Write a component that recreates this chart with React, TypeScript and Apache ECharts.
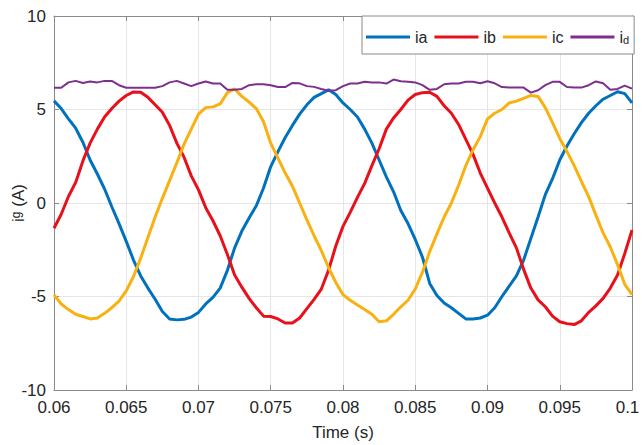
import React, { useEffect, useRef } from "react";
import * as echarts from "echarts";

// Sampling grid of the recorded waveforms (s)
const T0 = 0.06;
const DT = 0.0005;

// Grid-side phase currents (A)
const ia = [
  5.46, 5.05, 4.5, 4.0, 3.25, 2.3, 1.55, 0.75, -0.2, -1.1,
  -2.05, -3.05, -3.9, -4.55, -5.15, -5.8, -6.2, -6.25, -6.22, -6.1,
  -5.85, -5.4, -5.05, -4.55, -3.6, -2.4, -1.5, -0.8, -0.15, 0.8,
  1.95, 2.75, 3.5, 4.15, 4.75, 5.25, 5.65, 5.85, 6.05, 5.8,
  5.35, 5.0, 4.6, 3.95, 3.2, 2.3, 1.4, 0.6, -0.4, -1.1,
  -1.95, -2.9, -4.3, -4.95, -5.35, -5.6, -5.9, -6.2, -6.2, -6.15,
  -6.0, -5.6, -5.0, -4.45, -3.9, -3.05, -1.9, -0.75, 0.45, 1.3,
  2.3, 3.05, 3.7, 4.3, 4.8, 5.2, 5.55, 5.75, 5.95, 5.85, 5.35,
];

const ib = [
  -1.35, -0.6, 0.35, 1.1, 2.25, 3.2, 3.95, 4.6, 5.05, 5.45,
  5.75, 5.94, 5.92, 5.65, 5.25, 4.85, 4.15, 3.2, 2.45, 1.45,
  0.7, -0.25, -0.95, -1.75, -2.75, -3.85, -4.5, -5.1, -5.6, -6.05,
  -6.07, -6.2, -6.42, -6.42, -6.15, -5.65, -5.15, -4.6, -3.6, -2.3,
  -1.25, -0.5, 0.3, 1.05, 2.0, 2.9, 3.95, 4.55, 5.0, 5.5,
  5.8, 5.9, 5.92, 5.7, 5.2, 4.8, 4.2, 3.4, 2.6, 1.6,
  0.8, 0.0, -0.75, -1.6, -2.4, -3.55, -4.55, -5.18, -5.55, -6.05,
  -6.35, -6.45, -6.5, -6.3, -5.85, -5.5, -5.1, -4.55, -3.85, -2.7, -1.45,
];

const ic = [
  -4.91, -5.4, -5.7, -5.95, -6.07, -6.2, -6.15, -5.9, -5.6, -5.25,
  -4.7, -3.93, -2.95, -1.85, -0.75, 0.25, 1.2, 2.15, 3.15, 3.95,
  4.75, 5.1, 5.14, 5.3, 5.9, 6.1, 5.7, 5.4, 5.05, 4.35,
  3.2, 2.4, 1.6, 0.9, 0.0, -0.9, -1.75, -2.55, -3.45, -4.25,
  -4.9, -5.2, -5.45, -5.7, -5.95, -6.35, -6.3, -5.95, -5.55, -5.2,
  -4.6, -3.7, -2.6, -1.65, -0.75, 0.0, 0.95, 2.0, 2.85, 3.55,
  4.5, 4.8, 5.0, 5.35, 5.45, 5.6, 5.75, 5.7, 5.1, 4.3,
  3.45, 2.75, 2.0, 1.15, 0.34, -0.65, -1.6, -2.35, -3.3, -4.35, -4.9,
];

// d-axis current (A)
const id = [
  6.16, 6.16, 6.45, 6.53, 6.42, 6.5, 6.45, 6.53, 6.53, 6.3,
  6.16, 6.16, 6.16, 6.16, 6.16, 6.25, 6.45, 6.53, 6.39, 6.25,
  6.39, 6.5, 6.39, 6.39, 6.05, 6.05, 6.1, 6.3, 6.35, 6.35,
  6.3, 6.2, 6.2, 6.42, 6.4, 6.25, 6.21, 6.1, 6.0, 6.03,
  6.25, 6.39, 6.39, 6.48, 6.45, 6.45, 6.39, 6.6, 6.51, 6.48,
  6.45, 6.3, 6.05, 6.1, 6.35, 6.39, 6.39, 6.48, 6.48, 6.4,
  6.51, 6.4, 6.2, 6.17, 6.17, 6.17, 5.9, 6.03, 6.3, 6.48,
  6.48, 6.2, 6.17, 6.17, 6.3, 6.5, 6.4, 6.05, 6.1, 6.28, 6.12,
];

const seriesNames = ["ia", "ib", "ic", "id"];
const seriesColors = ["#0072BD", "#E8101A", "#F9B112", "#7E2F8E"];
const seriesWidths = [3, 3, 3, 2];

const FONT = "'Liberation Sans', Arial, Helvetica, sans-serif";
const TEXT = "#262626";
const BOX = "#8a8a8a";
const GRID = "#e6e6e6";

function toPoints(values: number[]): [number, number][] {
  return values.map((v, k) => [+(T0 + k * DT).toFixed(5), v]);
}

// Time tick text; the last one is nudged inward so it stays on the canvas
const fmtTime = (v: number) => {
  const s = String(parseFloat(v.toFixed(3)));
  return v >= 0.0999 ? `{last|${s}}` : s;
};

export default function App() {
  const ref = useRef<HTMLDivElement>(null);

  useEffect(() => {
    if (!ref.current) return;
    const chart = echarts.init(ref.current, undefined, { renderer: "svg" });

    const baseX = {
      type: "value" as const,
      min: 0.06,
      max: 0.1,
      interval: 0.005,
      axisLine: { show: true, onZero: false, lineStyle: { color: BOX, width: 1 } },
      axisTick: { show: true, inside: true, length: 5, lineStyle: { color: BOX } },
    };
    const baseY = {
      type: "value" as const,
      min: -10,
      max: 10,
      interval: 5,
      axisLine: { show: true, onZero: false, lineStyle: { color: BOX, width: 1 } },
      axisTick: { show: true, inside: true, length: 5, lineStyle: { color: BOX } },
    };

    const data = [ia, ib, ic, id];

    chart.setOption({
      animation: false,
      backgroundColor: "#ffffff",
      textStyle: { fontFamily: FONT },
      grid: {
        left: 54,
        right: 10,
        top: 16,
        bottom: 55,
        containLabel: false,
        outerBoundsMode: "none",
      },
      legend: {
        left: 362,
        top: 16,
        orient: "horizontal",
        icon: "rect",
        itemWidth: 44,
        itemHeight: 3,
        itemGap: 7,
        padding: [8, 5, 9, 4],
        backgroundColor: "#ffffff",
        borderColor: BOX,
        borderWidth: 1,
        borderRadius: 0,
        data: seriesNames,
        formatter: (name: string) =>
          name === "id" ? "{n|i}{sub|d}" : name,
        textStyle: {
          fontSize: 16,
          color: TEXT,
          fontFamily: FONT,
          rich: {
            n: { fontSize: 16, lineHeight: 16, color: TEXT, fontFamily: FONT },
            sub: {
              fontSize: 11,
              lineHeight: 11,
              padding: [10, 0, 0, 0],
              verticalAlign: "bottom",
              color: TEXT,
              fontFamily: FONT,
            },
          },
        },
      },
      xAxis: [
        {
          ...baseX,
          position: "bottom",
          name: "Time (s)",
          nameLocation: "middle",
          nameGap: 34,
          nameMoveOverlap: false,
          nameTextStyle: { fontSize: 17, color: TEXT, fontFamily: FONT },
          axisLabel: {
            show: true,
            fontSize: 17,
            color: TEXT,
            margin: 9,
            fontFamily: FONT,
            formatter: fmtTime,
            rich: {
              last: {
                fontSize: 17,
                color: TEXT,
                fontFamily: FONT,
                padding: [0, 9, 0, 0],
              },
            },
          },
          splitLine: { show: true, lineStyle: { color: GRID, width: 1 } },
        },
        {
          ...baseX,
          position: "top",
          axisLabel: { show: false },
          splitLine: { show: false },
        },
      ],
      yAxis: [
        {
          ...baseY,
          position: "left",
          name: "{n|i}{sup|g}{n| (A)}",
          nameLocation: "middle",
          nameGap: 27,
          nameMoveOverlap: false,
          nameTextStyle: {
            fontSize: 17,
            color: TEXT,
            fontFamily: FONT,
            rich: {
              n: { fontSize: 17, lineHeight: 17, color: TEXT, fontFamily: FONT },
              sup: {
                fontSize: 12,
                lineHeight: 12,
                padding: [0, 0, 12, 0],
                verticalAlign: "top",
                color: TEXT,
                fontFamily: FONT,
              },
            },
          },
          axisLabel: {
            show: true,
            fontSize: 17,
            color: TEXT,
            margin: 8,
            fontFamily: FONT,
          },
          splitLine: { show: true, lineStyle: { color: GRID, width: 1 } },
        },
        {
          ...baseY,
          position: "right",
          axisLabel: { show: false },
          splitLine: { show: false },
        },
      ],
      series: seriesNames.map((name, i) => ({
        name,
        type: "line",
        xAxisIndex: 0,
        yAxisIndex: 0,
        data: toPoints(data[i]),
        showSymbol: false,
        symbol: "none",
        smooth: false,
        color: seriesColors[i],
        lineStyle: { color: seriesColors[i], width: seriesWidths[i] },
        z: 2 + i,
      })),
    });

    return () => {
      chart.dispose();
    };
  }, []);

  return (
    <div
      ref={ref}
      style={{
        position: "absolute",
        left: 0,
        top: 0,
        width: 642,
        height: 445,
        background: "#fff",
      }}
    />
  );
}
